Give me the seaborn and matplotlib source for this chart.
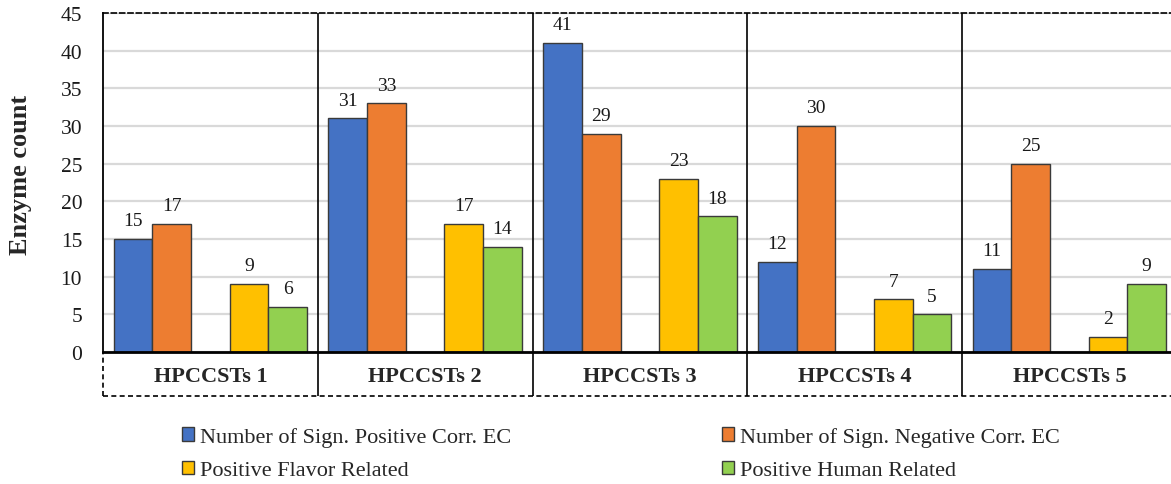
import matplotlib
matplotlib.use("Agg")
import matplotlib.pyplot as plt
import matplotlib.patches as mpatches
import pandas as pd
import seaborn as sns

# Enzyme counts per HPCCST cluster
clusters = ["HPCCSTs 1", "HPCCSTs 2", "HPCCSTs 3", "HPCCSTs 4", "HPCCSTs 5"]
pos_corr = [15, 31, 41, 12, 11]
neg_corr = [17, 33, 29, 30, 25]
flavor = [9, 17, 23, 7, 2]
human = [6, 14, 18, 5, 9]

series_names = [
    "Number of Sign. Positive Corr. EC",
    "Number of Sign. Negative Corr. EC",
    "Positive Flavor Related",
    "Positive Human Related",
]
series_values = [pos_corr, neg_corr, flavor, human]
series_colors = ["#4472C4", "#ED7D31", "#FFC000", "#92D050"]

rows = []
for name, vals in zip(series_names, series_values):
    for c, v in zip(clusters, vals):
        rows.append({"cluster": c, "series": name, "count": v})
df = pd.DataFrame(rows)

# an empty slot keeps the two pairs of bars apart within each cluster
spacer = "_spacer"
hue_order = series_names[:2] + [spacer] + series_names[2:]
palette = dict(zip(series_names, series_colors))
palette[spacer] = "white"

sns.set_theme(style="white")
serif = ["Liberation Serif", "DejaVu Serif"]
plt.rcParams["font.family"] = serif

W, H = 1171, 485
fig = plt.figure(figsize=(W / 100, H / 100), dpi=100)
left, right = 103 / W, 1176.75 / W
bottom, top = (H - 353) / H, (H - 14) / H
ax = fig.add_axes([left, bottom, right - left, top - bottom])

sns.barplot(
    data=df, x="cluster", y="count", hue="series",
    order=clusters, hue_order=hue_order, palette=palette, saturation=1,
    width=0.9, edgecolor="#3a3a3a", linewidth=1.0,
    legend=False, ax=ax, errorbar=None,
)

for cont in ax.containers:
    ax.bar_label(cont, padding=7, fontsize=14, color="#1a1a1a",
                 fontfamily=serif)

ax.set_ylim(0, 45)
ax.set_xlim(-0.5, len(clusters) - 0.5)
ax.set_yticks(range(0, 46, 5))
ax.yaxis.grid(True, color="#d9d9d9", linewidth=1.6)
ax.set_axisbelow(True)

ax.tick_params(axis="y", length=0, pad=15, labelsize=15.5, labelcolor="#1a1a1a")
ax.tick_params(axis="x", length=0, pad=10, labelsize=16)
for lbl in ax.get_xticklabels():
    lbl.set_fontweight("bold")
ax.set_xlabel("")
ax.set_ylabel("Enzyme count", fontsize=19, fontweight="bold")
ax.yaxis.set_label_coords(-0.066, 0.525)

# frame: solid axis lines, dashed outer border
ax.spines["left"].set_color("black")
ax.spines["left"].set_linewidth(1.3)
ax.spines["bottom"].set_color("black")
ax.spines["bottom"].set_linewidth(2.0)
ax.spines["top"].set_color("black")
ax.spines["top"].set_linewidth(1.2)
ax.spines["top"].set_linestyle((0, (3, 2)))
ax.spines["right"].set_visible(False)

band = -44 / 339
xt = ax.get_xaxis_transform()
seps = [i + 0.5 for i in range(len(clusters) - 1)]
ax.vlines(seps, band, 1, transform=xt, colors="black", linewidth=1.2,
          clip_on=False, zorder=5)
ax.plot([-0.5, len(clusters) - 0.5], [band, band], transform=xt,
        color="black", linewidth=1.2, linestyle=(0, (3, 2)), clip_on=False)
ax.plot([-0.5, -0.5], [band, 0], transform=xt,
        color="black", linewidth=1.2, linestyle=(0, (3, 2)), clip_on=False)

handles = [mpatches.Patch(facecolor=c, edgecolor="#3a3a3a", linewidth=1.0, label=n)
           for n, c in zip(series_names, series_colors)]
leg_order = [0, 2, 1, 3]
fig.legend(
    [handles[i] for i in leg_order], [series_names[i] for i in leg_order],
    ncol=2, loc="upper left", bbox_to_anchor=(182 / W, (H - 428) / H),
    frameon=False, fontsize=16, handlelength=0.55, handleheight=0.55,
    handletextpad=0.25, columnspacing=9.5, labelspacing=0.62,
    borderaxespad=0, borderpad=0,
)

fig.savefig("out.png", dpi=100, facecolor="white")
